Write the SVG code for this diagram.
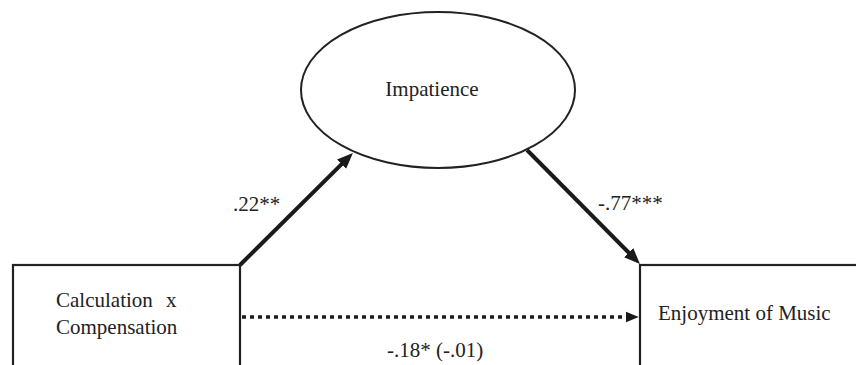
<svg xmlns="http://www.w3.org/2000/svg" width="856" height="365" viewBox="0 0 856 365">
<style>
.box{fill:#fff;stroke:#222;stroke-width:2.2}
.ell{fill:#fff;stroke:#222;stroke-width:2}
.lbl{font-size:21px;fill:#222}
.arr{stroke:#1a1a1a;stroke-width:4;fill:none}
.dot{stroke:#1a1a1a;stroke-width:3.5;stroke-dasharray:4 4;fill:none}
</style>
<defs>
<marker id="ah" markerUnits="userSpaceOnUse" markerWidth="18" markerHeight="14" refX="4" refY="6.5" orient="auto" viewBox="0 0 18 13">
<path d="M0,0 L16,6.5 L0,13 z" fill="#1a1a1a"/>
</marker>
<marker id="ahs" markerUnits="userSpaceOnUse" markerWidth="14" markerHeight="12" refX="2" refY="5" orient="auto" viewBox="0 0 13 10">
<path d="M0,0 L12,5 L0,10 z" fill="#1a1a1a"/>
</marker>
</defs>
<rect width="856" height="365" fill="#fff"/>
<g font-family="Liberation Serif, Tinos, DejaVu Serif, serif">
<g id="connectors">
<line class="arr" x1="240" y1="265" x2="344.4" y2="161.4" marker-end="url(#ah)"/>
<line class="arr" x1="527" y1="150" x2="631.5" y2="255.5" marker-end="url(#ah)"/>
<line class="dot" x1="242" y1="317" x2="628" y2="317" marker-end="url(#ahs)"/>
<text class="lbl" x="233" y="211">.22**</text>
<text class="lbl" x="598" y="210">-.77***</text>
<text class="lbl" x="387" y="357">-.18* (-.01)</text>
</g>
<g id="impatience">
<ellipse class="ell" cx="438" cy="90" rx="137" ry="78"/>
<text class="lbl" x="432" y="96" text-anchor="middle">Impatience</text>
</g>
<g id="calc">
<rect class="box" x="13" y="265" width="227" height="120"/>
<text class="lbl" x="56" y="307">Calculation<tspan dx="8"> x</tspan></text>
<text class="lbl" x="56" y="334">Compensation</text>
</g>
<g id="enjoy">
<rect class="box" x="640" y="265" width="240" height="120"/>
<text class="lbl" x="658" y="320">Enjoyment of Music</text>
</g>
</g>
</svg>
